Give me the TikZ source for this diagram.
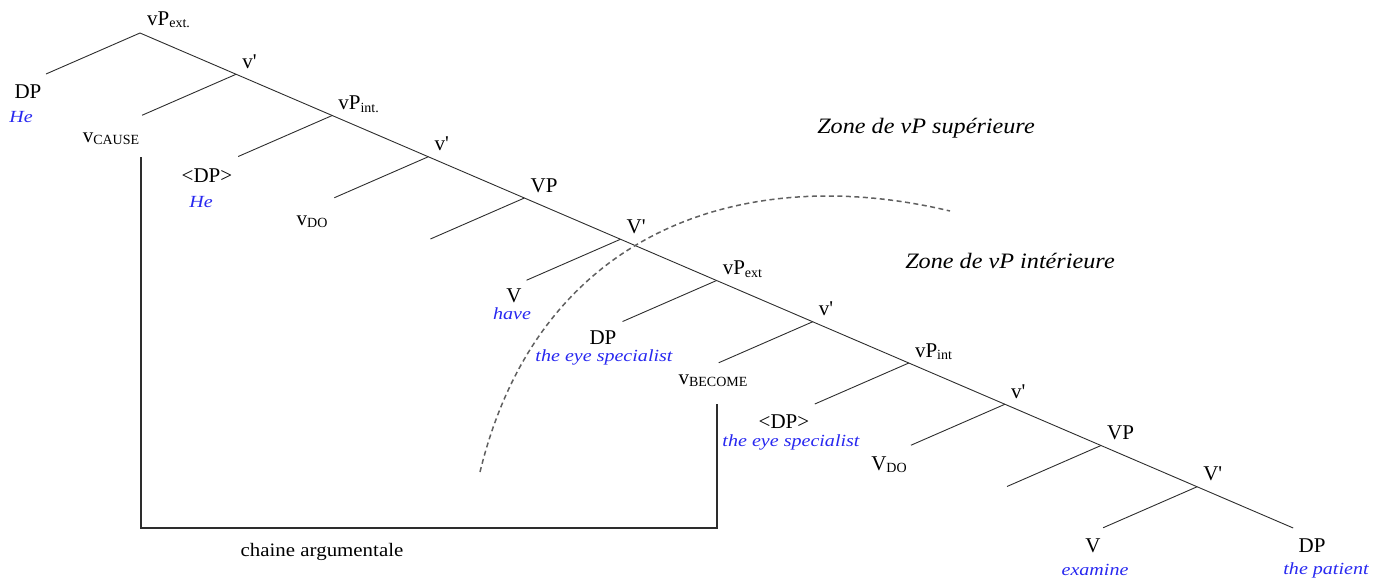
\documentclass[tikz,border=0pt]{standalone}
\usepackage{fontspec}
\setmainfont{Liberation Serif}
\newfontfamily\wideserif[FakeStretch=1.1]{Liberation Serif}
\newfontfamily\bluefam[FakeStretch=1.18]{Liberation Serif}
\newfontfamily\nolig[Ligatures=TeXOff]{Liberation Serif}
\definecolor{blu}{RGB}{40,40,240}
\definecolor{ln}{RGB}{45,45,45}
\newcommand{\lsub}[1]{\raisebox{-0.3ex}{\fontsize{14}{14}\selectfont #1}}
\newcommand{\prm}{{\nolig '}}
\begin{document}
\begin{tikzpicture}[x=1pt,y=-1pt,
  lab/.style={font=\fontsize{21}{21}\selectfont, inner sep=0pt, anchor=base},
  hlab/.style={font=\fontsize{21}{21}\selectfont, inner sep=0pt, anchor=base west, xshift=6pt, yshift=6pt},
  word/.style={font=\bluefam\itshape\fontsize{17}{17}\selectfont, text=blu, inner sep=0pt, anchor=base},
  zone/.style={font=\wideserif\itshape\fontsize{22}{22}\selectfont, inner sep=0pt, anchor=base},
  chainlab/.style={font=\wideserif\fontsize{19}{19}\selectfont, inner sep=0pt, anchor=base},
  branch/.style={draw=ln, line width=0.9pt},
  chain/.style={draw=ln, line width=1.3pt},
  arcline/.style={draw=gray!75!black, line width=1.5pt, dash pattern=on 5pt off 3.5pt}]
\useasboundingbox (0,0) rectangle (1384,579);

% junctions and left branch ends
\foreach \k in {0,...,12} \coordinate (J\k) at ({140+96.1*\k},{33+41.25*\k});
\foreach \k in {0,...,11} \coordinate (L\k) at ({46+96.1*\k},{74+41.25*\k});

% tree lines
\draw[branch] (J0) -- (J12);
\foreach \k in {0,...,11} \draw[branch] (J\k) -- (L\k);

% junction labels
\node[hlab, xshift=1pt, yshift=2pt] (n0) at (J0) {vP\lsub{ext.}};
\node[hlab] (n1) at (J1) {v\prm};
\node[hlab] (n2) at (J2) {vP\lsub{int.}};
\node[hlab] (n3) at (J3) {v\prm};
\node[hlab] (n4) at (J4) {VP};
\node[hlab] (n5) at (J5) {V\prm};
\node[hlab] (n6) at (J6) {vP\lsub{ext}};
\node[hlab] (n7) at (J7) {v\prm};
\node[hlab] (n8) at (J8) {vP\lsub{int}};
\node[hlab] (n9) at (J9) {v\prm};
\node[hlab] (n10) at (J10) {VP};
\node[hlab] (n11) at (J11) {V\prm};

% leaf labels
\node[lab] (dp1) at (28,98) {DP};
\node[word] (he1) at (21,122) {He};
\node[lab] (vcause) at (111,142) {v\lsub{CAUSE}};
\node[lab] (dp2) at (207,182) {<DP>};
\node[word] (he2) at (201,207) {He};
\node[lab] (vdo1) at (312,225) {v\lsub{DO}};
\node[lab] (v1) at (514,302) {V};
\node[word] (have) at (512,319) {have};
\node[lab] (dp3) at (603,344) {DP};
\node[word] (eye1) at (604,361) {the eye specialist};
\node[lab] (vbecome) at (713,384) {v\lsub{BECOME}};
\node[lab] (dp4) at (784,428) {<DP>};
\node[word] (eye2) at (791,446) {the eye specialist};
\node[lab] (vdo2) at (889,470) {V\lsub{DO}};
\node[lab] (v2) at (1093,552) {V};
\node[word] (examine) at (1095,575) {examine};
\node[lab] (dp5) at (1312,552) {DP};
\node[word] (patient) at (1326,574) {the patient};

% argument chain bracket
\coordinate (b1) at (141,157);
\coordinate (b2) at (141,528);
\coordinate (b3) at (717,528);
\coordinate (b4) at (717,404);
\draw[chain] (b1) -- (b2) -- (b3) -- (b4);
\node[chainlab] (chain) at (322,556) {chaine argumentale};

% zones
\coordinate (a1) at (480,472);
\coordinate (a2) at (950,211);
\draw[arcline] (a1) .. controls (540,225) and (750,163) .. (a2);
\node[zone] (zsup) at (926,133) {Zone de vP supérieure};
\node[zone] (zint) at (1010,268) {Zone de vP intérieure};
\end{tikzpicture}
\end{document}
